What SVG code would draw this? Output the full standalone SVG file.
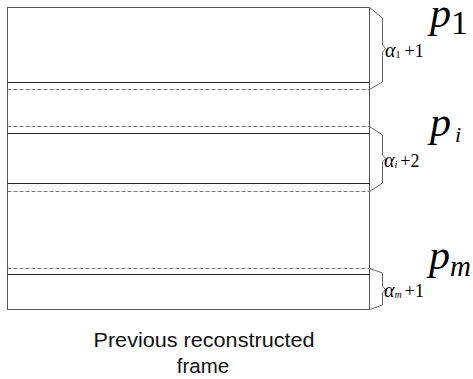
<svg xmlns="http://www.w3.org/2000/svg" width="473" height="379" viewBox="0 0 473 379">
  <style>
    .frame { fill: none; stroke: #555; stroke-width: 1; }
    .solid { stroke: #222; stroke-width: 1.2; }
    .dash { stroke: #777; stroke-width: 1; stroke-dasharray: 4 2; }
    .brace { fill: none; stroke: #666; stroke-width: 1; }
    .math { font-family: "Liberation Serif", "Times New Roman", serif; fill: #000; }
    .big { font-size: 42px; font-style: italic; }
    .lbl { font-size: 18px; }
    .alpha { font-size: 20px; font-style: italic; }
    .tiny { font-size: 10px; }
    .cap { font-family: "Liberation Sans", Arial, sans-serif; font-size: 20.5px; fill: #111; text-anchor: middle; }
  </style>

  <g id="frame">
    <rect class="frame" x="7.5" y="7.5" width="362" height="302"/>
    <line class="solid" x1="7.5" y1="82.5" x2="369.5" y2="82.5"/>
    <line class="dash" x1="7.5" y1="89.5" x2="369.5" y2="89.5"/>
    <line class="dash" x1="7.5" y1="126.5" x2="369.5" y2="126.5"/>
    <line class="solid" x1="7.5" y1="133.5" x2="369.5" y2="133.5"/>
    <line class="solid" x1="7.5" y1="183.5" x2="369.5" y2="183.5"/>
    <line class="dash" x1="7.5" y1="191.5" x2="369.5" y2="191.5"/>
    <line class="dash" x1="7.5" y1="268.5" x2="369.5" y2="268.5"/>
    <line class="solid" x1="7.5" y1="274.5" x2="369.5" y2="274.5"/>
  </g>

  <g id="region-p1">
    <path class="brace" d="M369.5 7.5 L382.5 18 L382.5 45 L385.5 48.5 L382.5 52 L382.5 82 L369.5 89.5"/>
    <text class="math lbl" x="385" y="57"><tspan class="alpha">α</tspan><tspan class="tiny" dy="1">1</tspan><tspan dy="-1" dx="4">+1</tspan></text>
    <text class="math" x="430" y="27"><tspan class="big">p</tspan><tspan font-size="34" dy="7" dx="0">1</tspan></text>
  </g>

  <g id="region-pi">
    <path class="brace" d="M369.5 126.5 L382.5 135 L382.5 155 L385.5 158.5 L382.5 162 L382.5 183 L369.5 191.5"/>
    <text class="math lbl" x="384" y="167"><tspan class="alpha">α</tspan><tspan class="tiny" font-style="italic" dy="1">i</tspan><tspan dy="-1" dx="3">+2</tspan></text>
    <text class="math" x="430" y="136"><tspan class="big">p</tspan><tspan font-size="22" font-style="italic" dy="6" dx="4">i</tspan></text>
  </g>

  <g id="region-pm">
    <path class="brace" d="M369.5 268.5 L382.5 273 L382.5 286 L385.5 289.5 L382.5 293 L382.5 305 L369.5 309.5"/>
    <text class="math lbl" x="384" y="297"><tspan class="alpha">α</tspan><tspan class="tiny" font-style="italic" dy="1">m</tspan><tspan dy="-1" dx="3">+1</tspan></text>
    <text class="math" x="429" y="269"><tspan class="big">p</tspan><tspan font-size="29" font-style="italic" dy="7" dx="0">m</tspan></text>
  </g>

  <g id="caption">
    <text class="cap" x="204" y="347" textLength="221" lengthAdjust="spacingAndGlyphs">Previous reconstructed</text>
    <text class="cap" x="203" y="373">frame</text>
  </g>
</svg>
